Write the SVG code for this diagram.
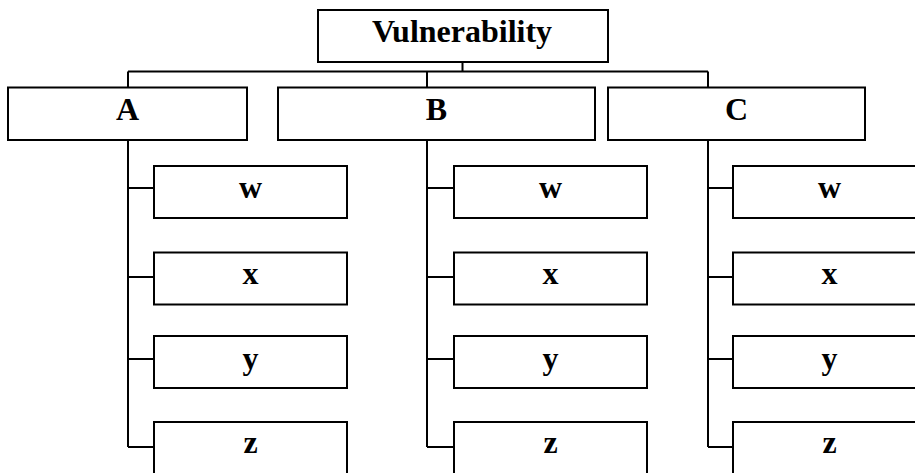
<svg xmlns="http://www.w3.org/2000/svg" width="915" height="473" viewBox="0 0 915 473">
<style>
.box{fill:#fff;stroke:#000;stroke-width:2}
.lbl{font-family:"Liberation Serif","Times New Roman",serif;font-weight:bold;font-size:32px;fill:#000;text-anchor:middle}
.con{fill:none;stroke:#000;stroke-width:2}
</style>
<rect width="915" height="473" fill="#fff"/>
<g id="connectors" class="con">
<path d="M462.5 62V71.5M128 71.5H708M128 71.5V87.5M427 71.5V87.5M708 71.5V87.5"/>
<path d="M128 140V447M128 188H154M128 277H154M128 359H154M128 447H154"/>
<path d="M427 140V447M427 188H454M427 277H454M427 359H454M427 447H454"/>
<path d="M708 140V447M708 188H733M708 277H733M708 359H733M708 447H733"/>
</g>
<g id="vulnerability"><rect class="box" x="318" y="10" width="290" height="52"/><text class="lbl" x="462" y="42">Vulnerability</text></g>
<g id="A"><rect class="box" x="8" y="87.5" width="239" height="52.5"/><text class="lbl" x="127.5" y="120">A</text></g>
<g id="B"><rect class="box" x="278" y="87.5" width="317" height="52.5"/><text class="lbl" x="436.5" y="120">B</text></g>
<g id="C"><rect class="box" x="608" y="87.5" width="257" height="52.5"/><text class="lbl" x="736.5" y="120">C</text></g>
<g id="A-w"><rect class="box" x="154" y="166" width="193" height="52"/><text class="lbl" x="250.5" y="198">w</text></g>
<g id="A-x"><rect class="box" x="154" y="252.5" width="193" height="52"/><text class="lbl" x="250.5" y="284">x</text></g>
<g id="A-y"><rect class="box" x="154" y="336" width="193" height="52"/><text class="lbl" x="250.5" y="369">y</text></g>
<g id="A-z"><rect class="box" x="154" y="422" width="193" height="52"/><text class="lbl" x="250.5" y="453">z</text></g>
<g id="B-w"><rect class="box" x="454" y="166" width="193" height="52"/><text class="lbl" x="550.5" y="198">w</text></g>
<g id="B-x"><rect class="box" x="454" y="252.5" width="193" height="52"/><text class="lbl" x="550.5" y="284">x</text></g>
<g id="B-y"><rect class="box" x="454" y="336" width="193" height="52"/><text class="lbl" x="550.5" y="369">y</text></g>
<g id="B-z"><rect class="box" x="454" y="422" width="193" height="52"/><text class="lbl" x="550.5" y="453">z</text></g>
<g id="C-w"><rect class="box" x="733" y="166" width="193" height="52"/><text class="lbl" x="829.5" y="198">w</text></g>
<g id="C-x"><rect class="box" x="733" y="252.5" width="193" height="52"/><text class="lbl" x="829.5" y="284">x</text></g>
<g id="C-y"><rect class="box" x="733" y="336" width="193" height="52"/><text class="lbl" x="829.5" y="369">y</text></g>
<g id="C-z"><rect class="box" x="733" y="422" width="193" height="52"/><text class="lbl" x="829.5" y="453">z</text></g>
</svg>
